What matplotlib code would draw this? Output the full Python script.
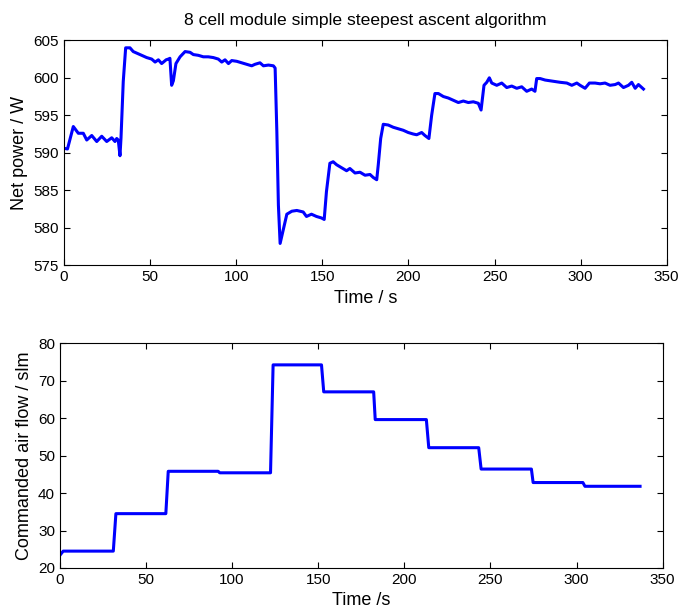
import matplotlib.pyplot as plt
import numpy as np

plt.rcParams['font.family'] = ['Liberation Sans', 'DejaVu Sans']

# net power trace
t_power = [0, 2, 5.4, 8.3, 11.2, 13.2, 16.1, 19, 21.9, 24.8, 27.7, 29.6, 30.6, 31.5, 32.5, 33.1,
           34.4, 35.8, 38.3, 40.2, 42.2, 45.1, 48, 50.9, 52.9, 54.8, 56.7, 59.3, 60.6, 61.5,
           62.5, 63.5, 65, 67.4, 70.3, 73.2, 75.1, 78, 80.9, 83.8, 86.7, 89.6, 91.6, 93.5,
           95.5, 97.4, 100.3, 103.2, 106.1, 109, 110.9, 113.8, 115.8, 118.7, 121.6, 122.6,
           123.6, 124.5, 125.5, 127.5, 129.4, 132.3, 135.2, 138.9, 140.8, 143.7, 146.6,
           149.5, 151.1, 152.4, 154.4, 156.3, 158.3, 161.2, 164.1, 166, 169, 171.9, 174.8,
           177.7, 179.6, 181.6, 182.5, 183.9, 185.4, 188.3, 191.2, 194.1, 197, 199.9, 202.8,
           204.8, 207.7, 209.6, 211.9, 213.5, 215.4, 217.4, 220.3, 223.2, 226.1, 229, 231.9,
           234.8, 237.7, 240.6, 242.2, 243.9, 245.5, 247, 248.4, 251.3, 254.2, 257.1, 260,
           262.9, 265.8, 268.7, 271.6, 273.5, 274.5, 276.5, 279.4, 282.3, 285.2, 288.1, 292,
           294.9, 297.8, 299.7, 302.6, 305.1, 308.4, 311.3, 314.2, 317.1, 320.1, 322, 324.9,
           327.8, 329.7, 331.7, 333.6, 336.5]
p_power = [590.6, 590.5, 593.5, 592.6, 592.6, 591.7, 592.3, 591.5, 592.2, 591.5, 592.0, 591.5,
           591.9, 591.7, 589.6, 592.0,
           599.5, 604.0, 604.0, 603.5, 603.3, 603.0, 602.7, 602.5, 602.1, 602.4, 601.9, 602.4,
           602.5, 602.6,
           599.0, 599.6, 601.9, 602.8, 603.5, 603.4, 603.1, 603.0, 602.8, 602.8, 602.7, 602.5,
           602.1, 602.4,
           601.9, 602.3, 602.2, 602.0, 601.8, 601.6, 601.8, 602.0, 601.6, 601.7, 601.6, 601.3,
           592.8, 583.0, 577.9, 579.9, 581.8, 582.2, 582.3, 582.1, 581.5, 581.8, 581.5,
           581.3, 581.1, 584.8, 588.6, 588.8, 588.4, 588.0, 587.6, 587.9, 587.3, 587.4, 587.0,
           587.1, 586.7, 586.4, 588.4, 591.9, 593.8, 593.7, 593.4, 593.2, 593.0, 592.7, 592.5,
           592.4, 592.7, 592.3, 591.9, 595.0, 597.9, 597.9, 597.5, 597.3, 597.0, 596.7, 596.9,
           596.7, 596.8, 596.6, 595.7, 599.0, 599.4, 600.0, 599.3, 599.0, 599.3, 598.7, 598.9,
           598.6, 598.8, 598.2, 598.5, 598.2, 599.9, 599.9, 599.7, 599.6, 599.5, 599.4, 599.3,
           599.0, 599.3, 599.0, 598.6, 599.3, 599.3, 599.2, 599.3, 599.0, 599.1, 599.3, 598.7,
           599.0, 599.4, 598.6, 599.1, 598.5]

# commanded air flow steps
t_flow = [0, 1.9, 31, 32.5, 61.5, 62.9, 91.9, 92.8, 122.3, 123.8, 151.9, 153.2, 182.2, 183.1,
          212.8, 214.2, 243.2, 244.6, 273.8, 274.8, 303.7, 304.9, 336.9]
f_flow = [23.4, 24.5, 24.5, 34.5, 34.5, 45.8, 45.8, 45.4, 45.4, 74.2, 74.2, 67.0, 67.0, 59.6,
          59.6, 52.1, 52.1, 46.4, 46.4, 42.8, 42.8, 41.8, 41.8]

fig = plt.figure(figsize=(6.81, 6.11), dpi=100)
ax1 = fig.add_axes([0.094, 0.566, 0.885, 0.368])
ax2 = fig.add_axes([0.088, 0.0704, 0.885, 0.368])

ax1.plot(t_power, p_power, color=(0, 0, 1), lw=2.2)
ax1.set_xlim(0, 350)
ax1.set_ylim(575, 605)
ax1.set_xticks(np.arange(0, 351, 50))
ax1.set_yticks(np.arange(575, 606, 5))
ax1.set_xlabel('Time / s', fontsize=13)
ax1.set_ylabel('Net power / W', fontsize=13)
ax1.set_title('8 cell module simple steepest ascent algorithm', fontsize=12.6, pad=11)

ax2.plot(t_flow, f_flow, color=(0, 0, 1), lw=2.2)
ax2.set_xlim(0, 350)
ax2.set_ylim(20, 80)
ax2.set_xticks(np.arange(0, 351, 50))
ax2.set_yticks(np.arange(20, 81, 10))
ax2.set_xlabel('Time /s', fontsize=13)
ax2.set_ylabel('Commanded air flow / slm', fontsize=13)

for ax in (ax1, ax2):
    ax.tick_params(direction='in', top=True, right=True, labelsize=11, length=4)
    for s in ax.spines.values():
        s.set_linewidth(0.8)

fig.savefig('out.png', dpi=100)
